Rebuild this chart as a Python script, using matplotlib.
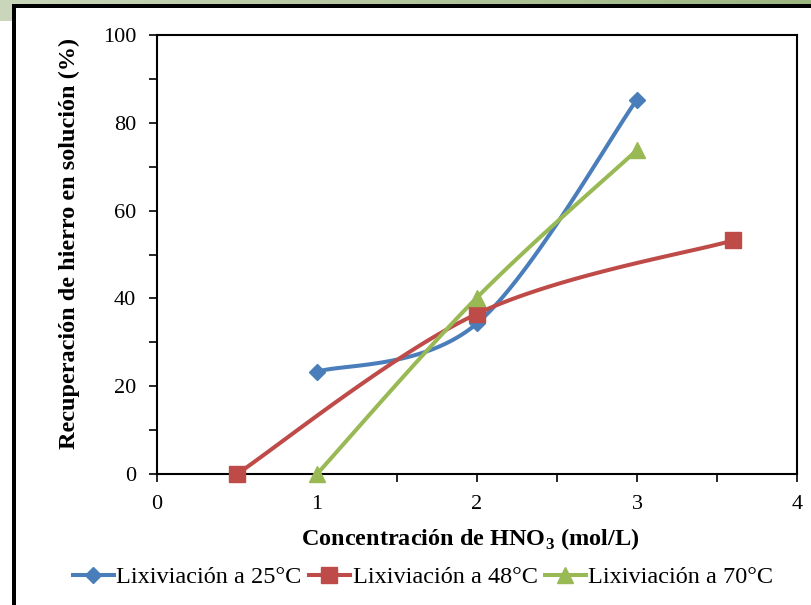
import numpy as np
import matplotlib
matplotlib.use('Agg')
import matplotlib.pyplot as plt
from matplotlib.patches import Rectangle
from matplotlib.lines import Line2D

plt.rcParams['font.family'] = ['Liberation Serif', 'DejaVu Serif']
plt.rcParams['mathtext.fontset'] = 'custom'
plt.rcParams['mathtext.rm'] = 'Liberation Serif'
plt.rcParams['mathtext.bf'] = 'Liberation Serif:bold'

# data
x25 = [1, 2, 3]
y25 = [23.3, 34.3, 85.3]
x48 = [0.5, 2, 3.6]
y48 = [0.0, 36.5, 53.2]
x70 = [1, 2, 3]
y70 = [0.0, 40.2, 73.8]

labels = ['Lixiviación a 25°C', 'Lixiviación a 48°C', 'Lixiviación a 70°C']
colors = ['#4A7EBB', '#BE4B48', '#98B954']
markers = ['D', 's', '^']
msizes = {'D': 8, 's': 11.5, '^': 11.5}

W, H = 812, 605


def smooth(xs, ys, sx=160.0, sy=4.39, n=60):
    # excel-like smoothed line: cubic bezier, control points from neighbours
    p = np.column_stack([np.array(xs) * sx, np.array(ys) * sy])
    out = []
    for i in range(len(p) - 1):
        p0 = p[i - 1] if i > 0 else p[i]
        p1, p2 = p[i], p[i + 1]
        p3 = p[i + 2] if i + 2 < len(p) else p[i + 1]
        c1 = p1 + (p2 - p0) / 6
        c2 = p2 - (p3 - p1) / 6
        t = np.linspace(0, 1, n)[:, None]
        seg = (1 - t) ** 3 * p1 + 3 * (1 - t) ** 2 * t * c1 + 3 * (1 - t) * t ** 2 * c2 + t ** 3 * p2
        out.append(seg if i == 0 else seg[1:])
    out = np.vstack(out)
    return out[:, 0] / sx, out[:, 1] / sy


fig = plt.figure(figsize=(W / 100, H / 100), dpi=100)

# slide frame
def box(x0, y0, x1, y1, **kw):
    fig.patches.append(Rectangle((x0 / W, 1 - y1 / H), (x1 - x0) / W, (y1 - y0) / H,
                                 transform=fig.transFigure, figure=fig, **kw))

grad = fig.add_axes([0, 1 - 5 / H, 1, 5 / H])
grad.imshow(np.linspace(0, 1, 256)[None, :], aspect='auto',
            cmap=matplotlib.colors.LinearSegmentedColormap.from_list('g', ['#C9D6BA', '#9CB680']))
grad.axis('off')
box(0, 0, 12, 21, color='#C9D6BA', lw=0)
box(12, 4, W, 8, color='black', lw=0)
box(12, 4, 16, H, color='black', lw=0)

ax = fig.add_axes([157 / W, 1 - 474 / H, 640 / W, 439 / H])

for xs, ys, c, m, lab in zip([x25, x48, x70], [y25, y48, y70], colors, markers, labels):
    sx, sy = smooth(xs, ys)
    ax.plot(sx, sy, color=c, lw=2.9, solid_capstyle='round', zorder=2)
    ax.plot(xs, ys, ls='none', marker=m, ms=msizes[m], color=c, mec=c, zorder=3, clip_on=False)

ax.set_xlim(0, 4)
ax.set_ylim(0, 100)
ax.set_xticks([0, 1, 2, 3, 4])
ax.set_xticks(np.arange(0, 4.01, 0.5), minor=True)
ax.set_yticks(np.arange(0, 101, 20))
ax.set_yticks(np.arange(0, 101, 10), minor=True)
ax.tick_params(axis='both', which='both', direction='out', length=6, width=1.2, labelsize=16)
ax.tick_params(axis='both', which='major', pad=9)
for s in ax.spines.values():
    s.set_linewidth(1.5)

ax.set_xlabel(r'Concentración de HNO$_{\mathbf{3}}$ (mol/L)', fontsize=17.5, fontweight='bold')
ax.set_ylabel('Recuperación de hierro en solución (%)', fontsize=17.5, fontweight='bold')
ax.xaxis.set_label_coords(0.49, -0.118)
ax.yaxis.set_label_coords(-0.12, 0.525)

handles = [Line2D([], [], color=c, lw=2.9, marker=m, ms=msizes[m], mec=c)
           for c, m in zip(colors, markers)]
fig.legend(handles, labels, loc='center', bbox_to_anchor=(423 / W, 1 - 577 / H), ncol=3,
           frameon=False, fontsize=17.5, handlelength=1.7, handletextpad=0.1, columnspacing=0.3,
           borderpad=0, borderaxespad=0)

fig.savefig('out.png', dpi=100)
